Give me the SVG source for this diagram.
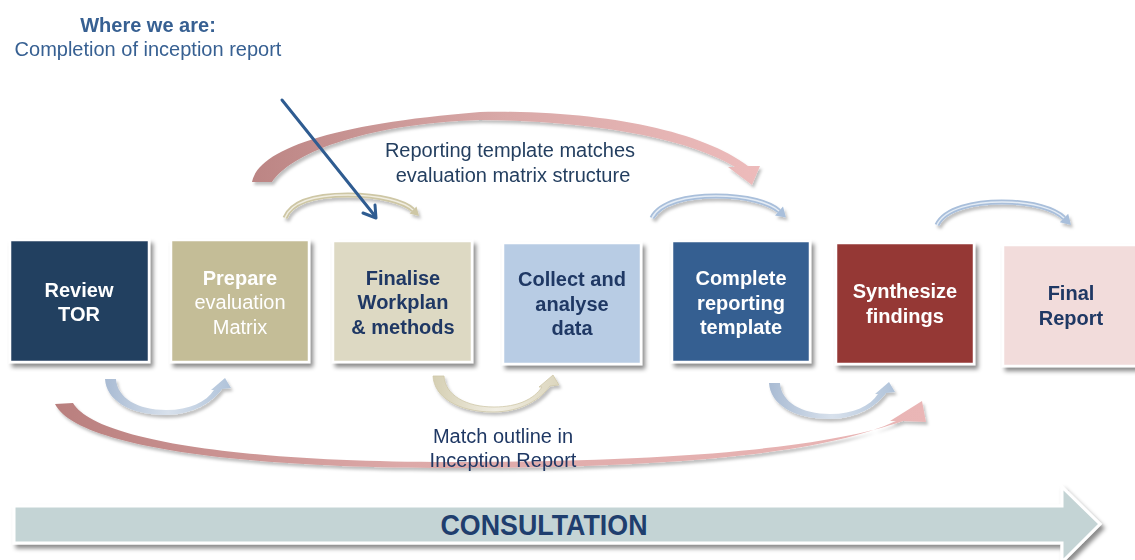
<svg xmlns="http://www.w3.org/2000/svg" width="1135" height="560" viewBox="0 0 1135 560">
<defs>
<style>
.box{stroke:#fff;stroke-width:2.5;filter:url(#sh)}
.t{font-family:"Liberation Sans",Arial,sans-serif;font-size:20px;text-anchor:middle}
.b{font-weight:bold}
.w{fill:#fff}
.d{fill:#1F3864}
.arcB{fill:none;stroke:#A9BFDB;stroke-width:5}
.arcBi{fill:none;stroke:#E4ECF5;stroke-width:1.5}
.arcT{fill:none;stroke:#CEC7A5;stroke-width:5}
.arcTi{fill:none;stroke:#F0EDE1;stroke-width:1.5}
</style>
<filter id="sh" x="-10%" y="-10%" width="130%" height="130%">
<feDropShadow dx="3" dy="4" stdDeviation="2" flood-color="#000" flood-opacity="0.45"/>
</filter>
<filter id="sh2" x="-10%" y="-10%" width="130%" height="140%">
<feDropShadow dx="2" dy="3" stdDeviation="1.5" flood-color="#000" flood-opacity="0.25"/>
</filter>
<linearGradient id="gRedTop" x1="252" y1="0" x2="760" y2="0" gradientUnits="userSpaceOnUse">
<stop offset="0" stop-color="#BC8584"/>
<stop offset="0.5" stop-color="#D9A9A8"/>
<stop offset="1" stop-color="#EDBBBB"/>
</linearGradient>
<linearGradient id="gRedBot" x1="55" y1="0" x2="926" y2="0" gradientUnits="userSpaceOnUse">
<stop offset="0" stop-color="#B97F7E"/>
<stop offset="0.4" stop-color="#DDA9A8"/>
<stop offset="1" stop-color="#EAB6B6"/>
</linearGradient>
<linearGradient id="gBlueU" x1="105" y1="0" x2="231" y2="0" gradientUnits="userSpaceOnUse">
<stop offset="0" stop-color="#A9BBD3"/>
<stop offset="0.5" stop-color="#D8E1EC"/>
<stop offset="1" stop-color="#B0C3DA"/>
</linearGradient>
<linearGradient id="gTanU" x1="105" y1="0" x2="231" y2="0" gradientUnits="userSpaceOnUse">
<stop offset="0" stop-color="#D5CFB3"/>
<stop offset="0.5" stop-color="#F1EEE3"/>
<stop offset="1" stop-color="#DCD6BE"/>
</linearGradient>
<path id="uShape" d="M 105 379 C 106 400, 130 415, 165 415 C 193 415, 213 402, 222 389 L 231 388 L 225 378 L 211 390 L 214 390 C 206 402, 190 410, 166 410 C 138 410, 117 398, 116 379 Z"/>
</defs>

<rect width="1135" height="560" fill="#fff"/>

<g id="connectors">
<!-- big top red arc -->
<path filter="url(#sh2)" fill="url(#gRedTop)" d="M 252 182 C 258 150, 330 124, 480 112 C 600 110, 700 130, 748 166 L 760 166 L 752 185 L 728 167 L 735 167 C 690 140, 600 121, 480 120 C 360 124, 290 155, 272 182 Z"/>
<!-- big bottom red arc -->
<path filter="url(#sh2)" fill="url(#gRedBot)" d="M 55 404 C 75 445, 230 468, 450 468 C 680 468, 830 452, 896 421 L 890 421 L 922 401 L 926 422 L 903 421 C 830 447, 680 462, 450 462 C 240 462, 95 440, 73 403 Z"/>
<!-- top small arcs -->
<g filter="url(#sh2)">
<path class="arcT" d="M 285 218 C 292 200, 320 195, 348 195 C 380 195, 405 202, 413 210"/>
<path class="arcTi" d="M 285 218 C 292 200, 320 195, 348 195 C 380 195, 405 202, 413 210"/>
<polygon fill="#CEC7A5" points="409.5,213.5 416.5,206.5 419,216"/>
<path class="arcB" d="M 652 218 C 660 202, 688 196, 716 196 C 748 196, 770 203, 779 211"/>
<path class="arcBi" d="M 652 218 C 660 202, 688 196, 716 196 C 748 196, 770 203, 779 211"/>
<polygon fill="#A9BFDB" points="775,215.5 783,206.5 786,217.5"/>
<path class="arcB" d="M 937 225 C 945 208, 975 202, 1002 202 C 1033 202, 1055 209, 1064 218"/>
<path class="arcBi" d="M 937 225 C 945 208, 975 202, 1002 202 C 1033 202, 1055 209, 1064 218"/>
<polygon fill="#A9BFDB" points="1059.8,222.2 1068.2,213.8 1071,225"/>
</g>
<!-- bottom U arrows -->
<g filter="url(#sh2)">
<use href="#uShape" fill="url(#gBlueU)"/>
<use href="#uShape" fill="url(#gTanU)" stroke="#CFC8A8" stroke-width="0.8" transform="translate(328,-3)"/>
<use href="#uShape" fill="url(#gBlueU)" transform="translate(664,4)"/>
</g>
<!-- pointer arrow -->
<g stroke="#2F5C91" stroke-width="3" fill="none" stroke-linecap="round" stroke-linejoin="round">
<line x1="282" y1="100" x2="375" y2="216"/>
<polyline points="363,213 376,218 375,205"/>
</g>
</g>

<g id="where">
<text class="t b" x="148" y="32" fill="#376092">Where we are:</text>
<text class="t" x="148" y="56" fill="#376092">Completion of inception report</text>
</g>

<g id="label-top">
<text class="t" x="510" y="157" fill="#243F60">Reporting template matches</text>
<text class="t" x="513" y="182" fill="#243F60">evaluation matrix structure</text>
</g>

<g id="label-bottom">
<text class="t" x="503" y="443" fill="#1F3864">Match outline in</text>
<text class="t" x="503" y="467" fill="#1F3864">Inception Report</text>
</g>

<g id="review">
<rect class="box" x="10" y="240" width="139" height="122" fill="#243F60"/>
<text class="t b w" x="79" y="297">Review</text>
<text class="t b w" x="79" y="321">TOR</text>
</g>

<g id="prepare">
<rect class="box" x="171" y="240" width="138" height="122" fill="#C4BD97"/>
<text class="t b w" x="240" y="285">Prepare</text>
<text class="t w" x="240" y="309">evaluation</text>
<text class="t w" x="240" y="334">Matrix</text>
</g>

<g id="finalise">
<rect class="box" x="333" y="241" width="139" height="121" fill="#DDD9C3"/>
<text class="t b d" x="403" y="285">Finalise</text>
<text class="t b d" x="403" y="309">Workplan</text>
<text class="t b d" x="403" y="334">&amp; methods</text>
</g>

<g id="collect">
<rect class="box" x="503" y="243" width="138" height="121" fill="#B8CCE4"/>
<text class="t b d" x="572" y="286">Collect and</text>
<text class="t b d" x="572" y="311">analyse</text>
<text class="t b d" x="572" y="335">data</text>
</g>

<g id="complete">
<rect class="box" x="672" y="241" width="138" height="121" fill="#365F91"/>
<text class="t b w" x="741" y="285">Complete</text>
<text class="t b w" x="741" y="310">reporting</text>
<text class="t b w" x="741" y="334">template</text>
</g>

<g id="synthesize">
<rect class="box" x="836" y="243" width="138" height="121" fill="#953735"/>
<text class="t b w" x="905" y="298">Synthesize</text>
<text class="t b w" x="905" y="323">findings</text>
</g>

<g id="final">
<rect class="box" x="1003" y="245" width="140" height="121" fill="#F2DCDB"/>
<text class="t b d" x="1071" y="300">Final</text>
<text class="t b d" x="1071" y="325">Report</text>
</g>

<g id="consultation">
<polygon filter="url(#sh)" fill="#C4D4D5" stroke="#fff" stroke-width="3" points="14,506 1062,506 1062,487 1100,524 1062,562 1062,543 14,543"/>
<text x="544" y="535" font-family="'Liberation Sans',Arial,sans-serif" font-weight="bold" font-size="29" fill="#1F3E6E" text-anchor="middle" textLength="207" lengthAdjust="spacingAndGlyphs">CONSULTATION</text>
</g>
</svg>
